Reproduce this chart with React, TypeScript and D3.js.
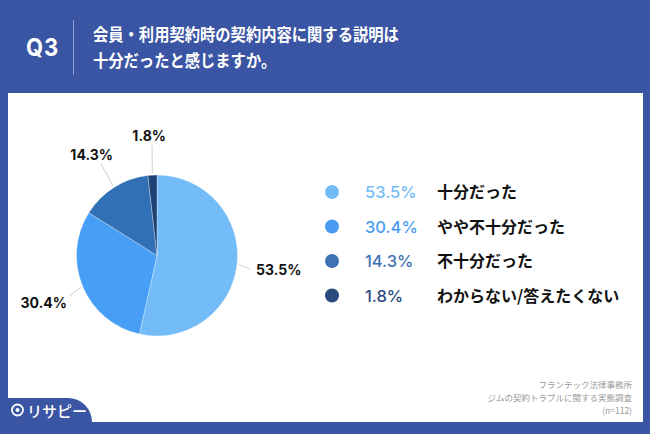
import React from "react";
import * as d3 from "d3";

const categories = ["十分だった", "やや不十分だった", "不十分だった", "わからない/答えたくない"];
const values = [53.5, 30.4, 14.3, 1.8];
const sliceColors = ["#74bcf7", "#479ef5", "#3170b5", "#1f4274"];
const legendDotColors = ["#74bcf7", "#4a9cf2", "#3f72b4", "#2b4b7d"];
const legendPctColors = ["#74bcf7", "#4a9cf2", "#3f72b4", "#2b4b7d"];
const titleLines = ["会員・利用契約時の契約内容に関する説明は", "十分だったと感じますか。"];
const sourceLines = ["フランテック法律事務所", "ジムの契約トラブルに関する実態調査", "(n=112)"];

const BLUE = "#3a55a3";
const FONT = "'Noto Sans CJK JP', 'Noto Sans', sans-serif";
const LATIN = "'Inter', 'Noto Sans', sans-serif";

const labelPos = [
  { x: 256, y: 275, anchor: "start" },
  { x: 67, y: 308, anchor: "end" },
  { x: 113, y: 160, anchor: "end" },
  { x: 166, y: 141, anchor: "end" },
];

export default function App() {
  const cx = 157;
  const cy = 255.5;
  const r = 80.5;
  const pie = d3.pie<number>().sort(null).value((d) => d);
  const arcs = pie(values);
  const arc = d3.arc<d3.PieArcDatum<number>>().innerRadius(0).outerRadius(r);
  const pctFmt = (v: number) => `${v.toFixed(1)}%`;

  const legendY = d3.scaleLinear().domain([0, 3]).range([192, 295.5]);

  return (
    <svg width={650} height={434} style={{ position: "absolute", left: 0, top: 0, fontFamily: FONT }}>
      <rect x={0} y={0} width={650} height={434} fill={BLUE} />
      <rect x={8} y={93} width={635} height={329} fill="#ffffff" />
      <path d={`M0,398 L68,398 A24,24 0 0 1 92,422 L0,422 Z`} fill={BLUE} />
      <g transform="translate(26,56) scale(1,1.1)">
        <text x={0} y={0} fill="#fff" fontSize={22} fontWeight={700} fontFamily={LATIN} letterSpacing={1}>Q3</text>
      </g>
      <line x1={73.5} x2={73.5} y1={20} y2={75} stroke="#8c9fd0" strokeWidth={1} />
      {titleLines.map((t, i) => (
        <g key={i} transform={`translate(93,${40.5 + i * 26.5}) scale(1,1.12)`}>
          <text x={0} y={0} fill="#fff" fontSize={15.3} fontWeight={700}>{t}</text>
        </g>
      ))}

      <g transform={`translate(${cx},${cy})`}>
        {arcs.map((a, i) => (
          <path key={i} d={arc(a) || ""} fill={sliceColors[i]} stroke="#ffffff" strokeWidth={0.3} />
        ))}
      </g>
      {arcs.map((a, i) => {
        const mid = (a.startAngle + a.endAngle) / 2;
        const p1 = [cx + Math.sin(mid) * (r + 2), cy - Math.cos(mid) * (r + 2)];
        const lp = labelPos[i];
        let p2: number[];
        if (i === 0) p2 = [lp.x - 6, lp.y - 6];
        else if (i === 1) p2 = [lp.x + 2, lp.y - 12];
        else if (i === 2) p2 = [lp.x - 12, lp.y + 4];
        else p2 = [lp.x - 14, lp.y + 4];
        return <line key={i} x1={p1[0]} y1={p1[1]} x2={p2[0]} y2={p2[1]} stroke="#cfcfcf" strokeWidth={1} />;
      })}
      {arcs.map((a, i) => {
        const lp = labelPos[i];
        return (
          <text key={i} x={lp.x} y={lp.y} textAnchor={lp.anchor as any} fontSize={14} fontWeight={700} fill="#111" fontFamily={LATIN}>
            {pctFmt(values[i])}
          </text>
        );
      })}

      {categories.map((c, i) => {
        const y = legendY(i);
        return (
          <g key={i}>
            <circle cx={332} cy={y} r={7} fill={legendDotColors[i]} />
            <text x={365} y={y + 6} fontSize={16.5} fontWeight={500} fill={legendPctColors[i]} fontFamily={LATIN}>{pctFmt(values[i])}</text>
            <text x={437} y={y + 6} fontSize={16} fontWeight={700} fill="#111">{c}</text>
          </g>
        );
      })}

      {sourceLines.map((s, i) => (
        <text key={i} x={632} y={388 + i * 13} textAnchor="end" fontSize={8.5} fill="#9a9a9a">{s}</text>
      ))}

      <circle cx={17.5} cy={410} r={5.5} fill="none" stroke="#fff" strokeWidth={1.8} />
      <circle cx={17.5} cy={410} r={2} fill="#fff" />
      <text x={27} y={417} fill="#fff" fontSize={15} fontWeight={500}>リサピー</text>
    </svg>
  );
}
